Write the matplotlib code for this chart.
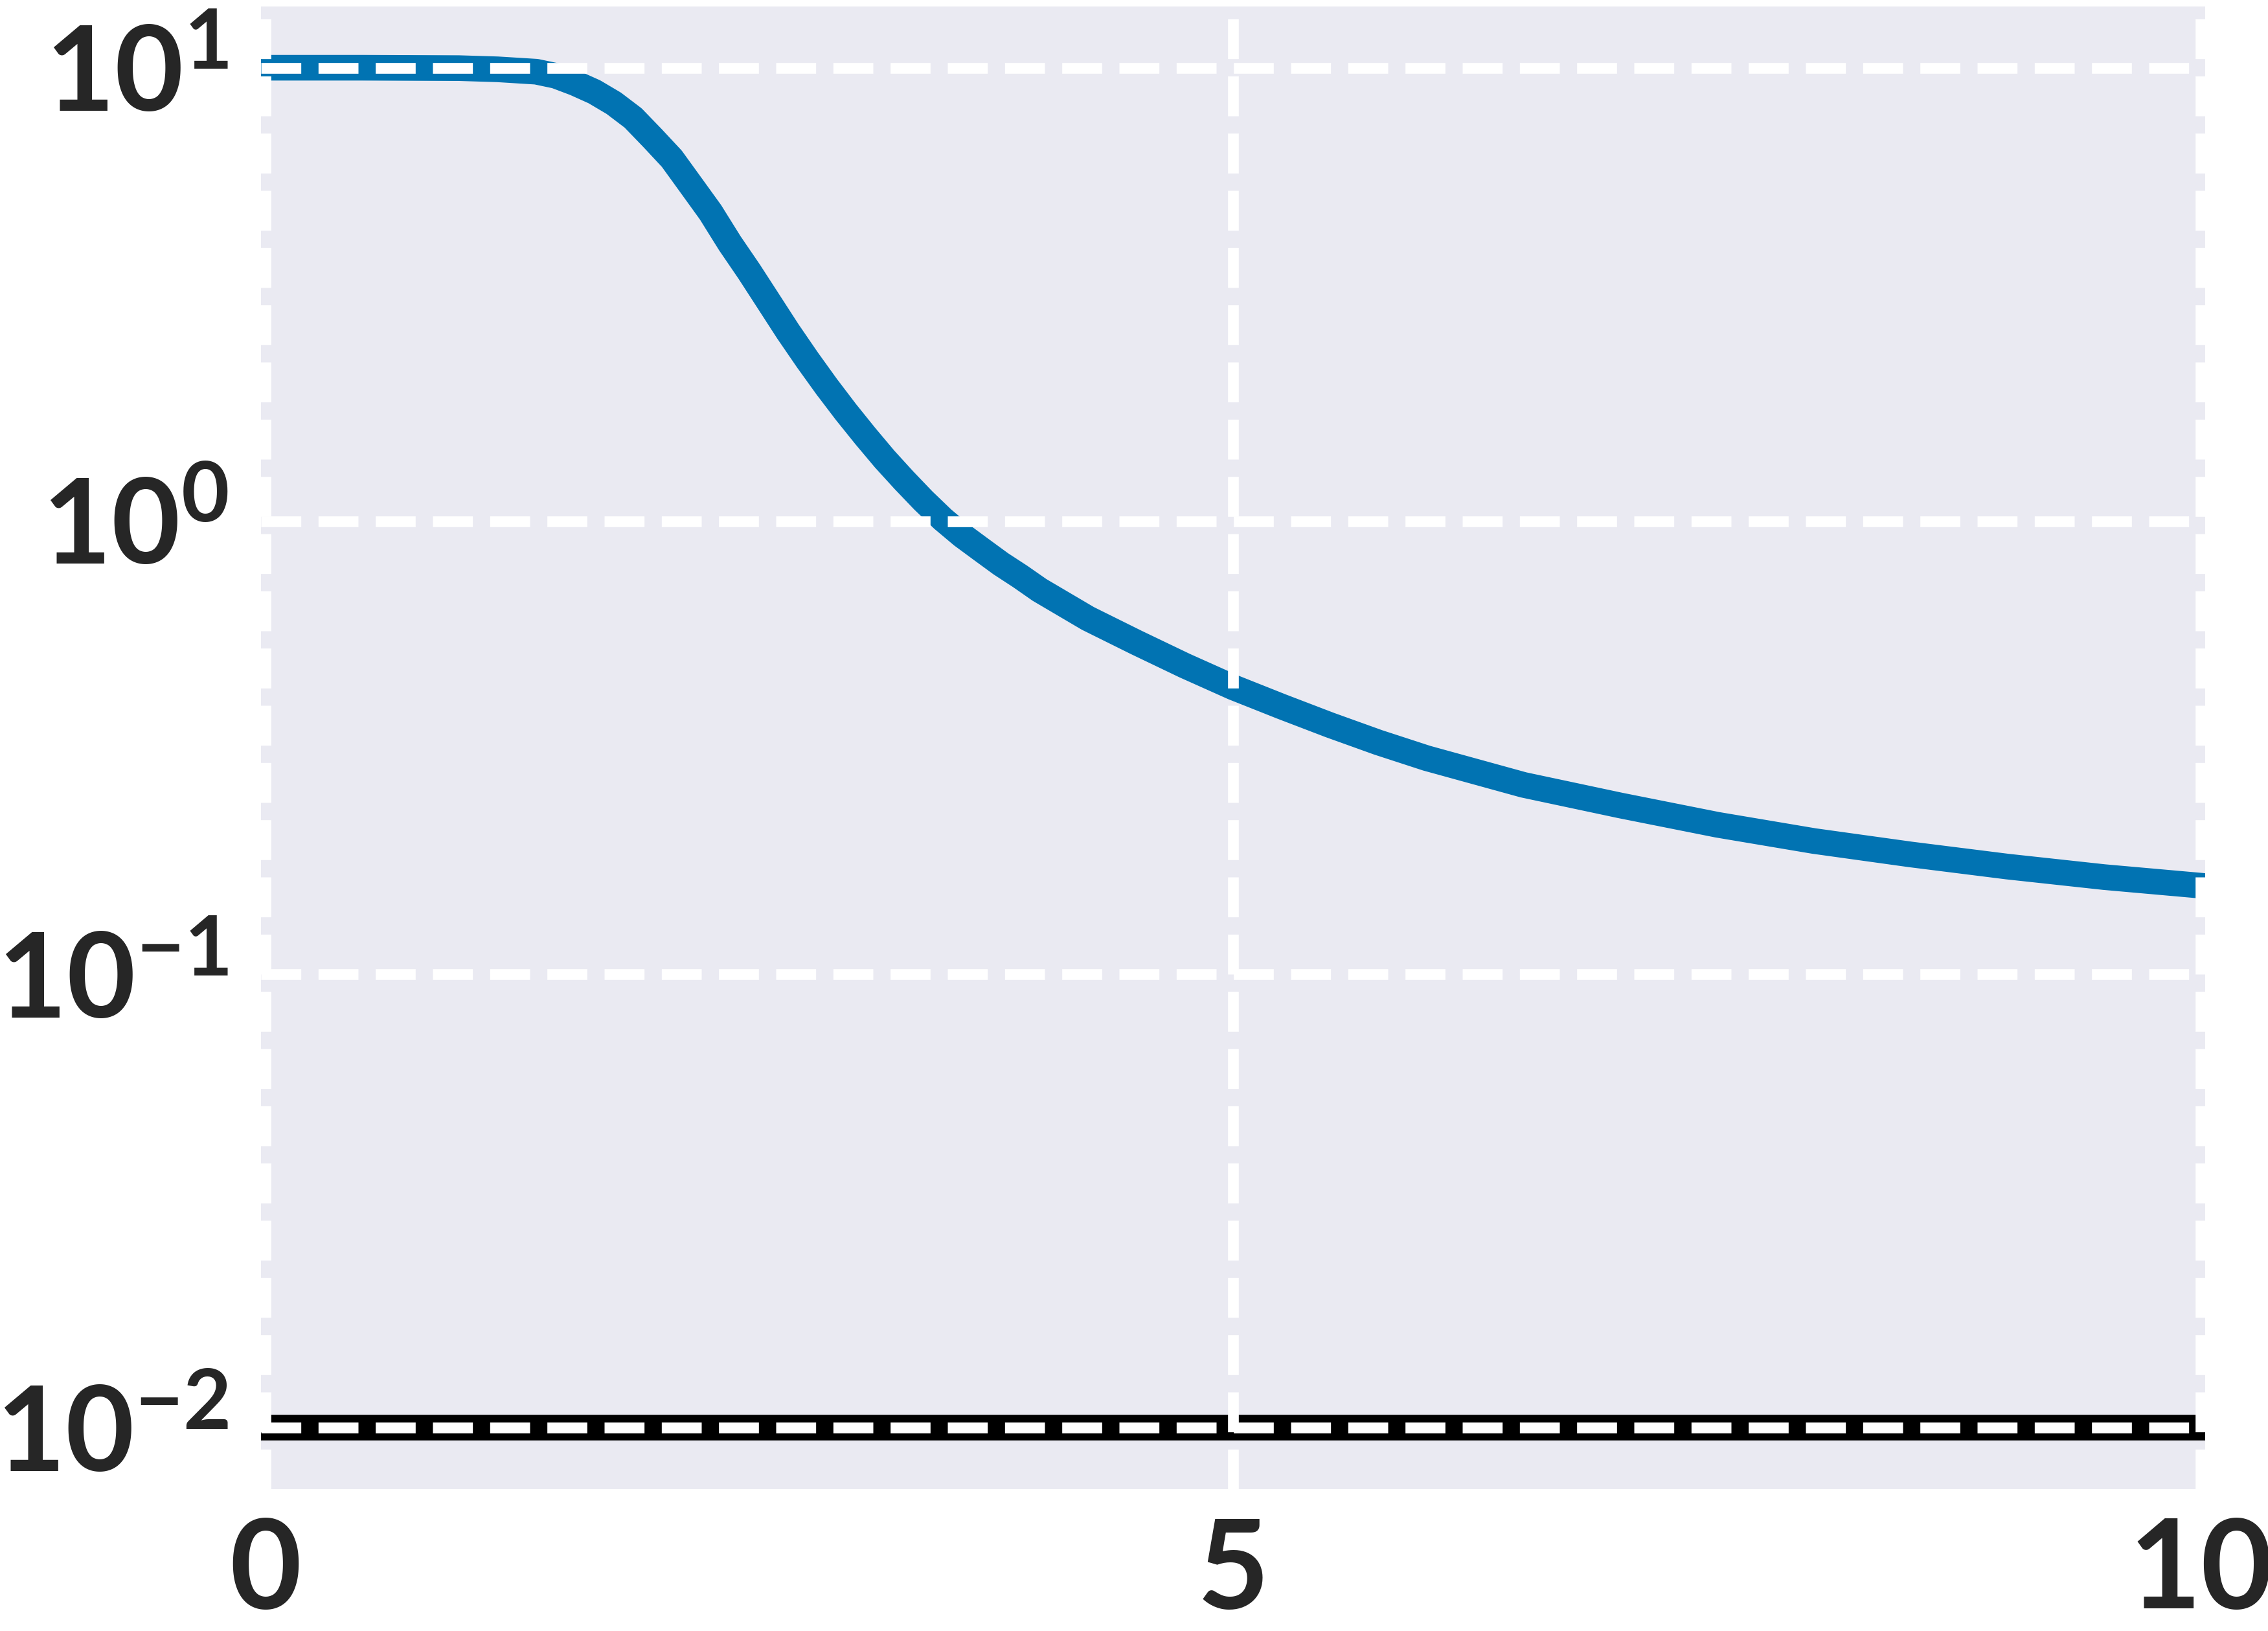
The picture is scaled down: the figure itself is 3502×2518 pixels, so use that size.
import matplotlib
matplotlib.use("Agg")
import matplotlib.pyplot as plt
import numpy as np

# values
x_vals = [0.0, 0.5, 1.0, 1.2, 1.4, 1.5, 1.6, 1.7, 1.8, 1.9, 2.0, 2.1, 2.2, 2.3,
          2.4, 2.5, 2.6, 2.7, 2.8, 2.9, 3.0, 3.1, 3.2, 3.3, 3.4, 3.5, 3.6, 3.7,
          3.8, 3.9, 4.0, 4.25, 4.5, 4.75, 5.0, 5.25, 5.5, 5.75, 6.0, 6.5, 7.0,
          7.5, 8.0, 8.5, 9.0, 9.5, 10.0]
blue_vals = [10.0, 10.0, 9.98, 9.92, 9.8, 9.6, 9.25, 8.85, 8.35, 7.75, 7.0, 6.3,
             5.5, 4.8, 4.1, 3.55, 3.05, 2.62, 2.27, 1.98, 1.74, 1.54, 1.37, 1.23,
             1.11, 1.01, 0.93, 0.865, 0.805, 0.755, 0.705, 0.61, 0.54, 0.48, 0.43,
             0.39, 0.355, 0.325, 0.30, 0.262, 0.236, 0.214, 0.197, 0.184, 0.173,
             0.164, 0.157]
ref_x = [0.0, 10.0]
ref_vals = [0.01, 0.01]
x_ticks = [0, 5, 10]

plt.rcParams['font.family'] = ['Lato', 'DejaVu Sans']
plt.rcParams['font.weight'] = 'bold'
plt.rcParams['mathtext.default'] = 'regular'

fig = plt.figure(figsize=(3502 / 300, 2518 / 300), dpi=300)
ax = fig.add_axes([0.1151, 0.0870, 0.9723 - 0.1151, 0.9960 - 0.0870])
ax.set_facecolor('#EAEAF2')
for s in ax.spines.values():
    s.set_visible(False)

ax.plot(x_vals, blue_vals, color='#0173B2', lw=9.5)
ax.plot(ref_x, ref_vals, color='black', lw=9.5)

ax.set_yscale('log')
ax.set_xlim(-0.022, 10.022)
ax.set_ylim(10 ** -2.135, 10 ** 1.135)
ax.set_xticks(x_ticks)
ax.minorticks_off()

ax.set_axisbelow(False)
ax.grid(True, which='major', color='white', linestyle='--', lw=4)
ax.tick_params(axis='both', length=0, colors='#262626')
ax.tick_params(axis='x', pad=10, labelsize=46)
ax.tick_params(axis='y', pad=12, labelsize=44)

fig.savefig('out.png', dpi=300, facecolor='white')
